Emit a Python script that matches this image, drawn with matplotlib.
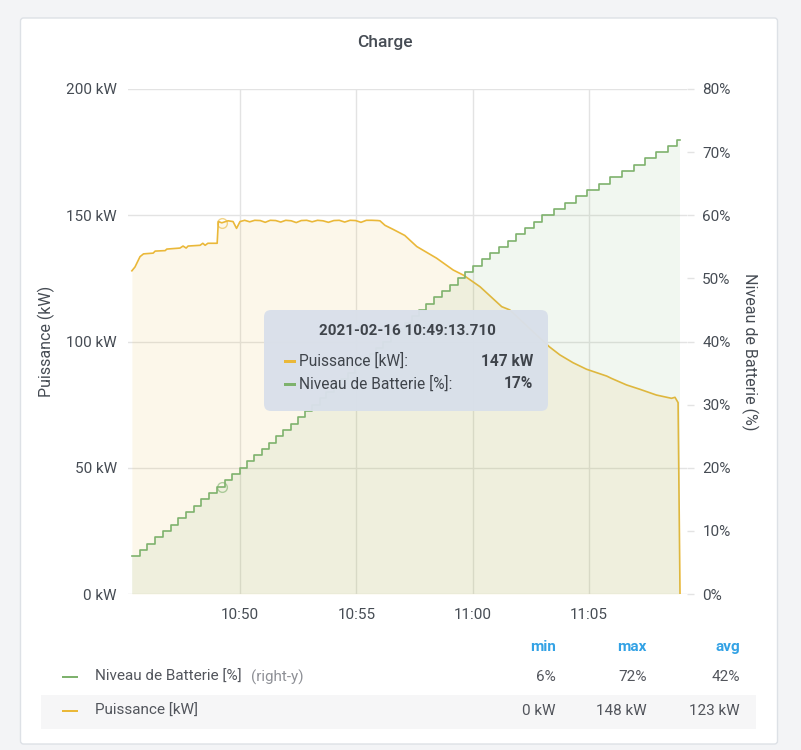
import numpy as np
import matplotlib
matplotlib.use("Agg")
import matplotlib.pyplot as plt
import matplotlib.dates as mdates
from matplotlib.patches import FancyBboxPatch, Rectangle
from matplotlib.transforms import IdentityTransform

plt.rcParams['font.family'] = ['Roboto', 'DejaVu Sans']

W, H = 801, 750
start = np.datetime64('2021-02-16T10:45:00')

# Puissance [kW] (secondes apres 10:45:00)
puiss_sec = [21, 29, 42, 51, 76, 81, 107, 111, 145, 153, 161, 166, 197, 204, 210, 217,
             241, 244, 253, 269, 282, 291, 300, 312, 325, 338, 352, 365, 378, 392, 405,
             418, 432, 445, 458, 472, 486, 500, 514, 528, 542, 556, 570, 584, 598, 612,
             626, 640, 655, 661, 674, 695, 725, 756, 807, 850, 876, 919, 975, 996, 1048,
             1098, 1125, 1159, 1194, 1246, 1258, 1297, 1331, 1374, 1413, 1422, 1430, 1435]
puiss_kw = [128, 129.5, 133.6, 134.7, 135, 135.8, 136, 136.6, 137, 137.8, 137, 137.8, 138.1,
            138.9, 138.1, 138.9, 138.9, 147.5, 147, 147.8, 147.5, 144.8, 147.5, 148, 147.4,
            148, 147.9, 147.2, 148, 147.9, 147.3, 148, 147.8, 147.1, 147.9, 148, 147.4, 148,
            147.8, 147.2, 147.9, 148, 147.3, 148, 147.9, 147.2, 148, 148, 147.9, 147.8, 146,
            144.4, 142, 137.6, 133, 128.3, 126.3, 121.7, 113.8, 112.5, 105, 97.9, 94.7, 91.6,
            89, 86.3, 85.4, 82.8, 81.1, 78.8, 77.5, 77.9, 75.8, 0]

# Niveau de Batterie [%] : instant ou chaque niveau est atteint
batt_sec = [22, 41, 61, 81, 101, 121, 141, 161, 181, 200, 220, 240, 260, 280, 300, 319,
            337, 356, 375, 393, 412, 431, 449, 468, 486, 505, 523, 542, 560, 578, 597, 615,
            634, 652, 670, 689, 707, 726, 744, 762, 781, 801, 821, 841, 861, 881, 901, 924,
            946, 968, 991, 1013, 1035, 1058, 1080, 1109, 1138, 1167, 1196, 1226, 1255, 1285,
            1315, 1344, 1374, 1404, 1427, 1435]
batt_pct = [6, 7, 8, 9, 10, 11, 12, 13, 14, 15, 16, 17, 18, 19, 20, 21, 22, 23, 24, 25, 26,
            27, 28, 29, 30, 31, 32, 33, 34, 35, 36, 37, 38, 39, 40, 41, 42, 43, 44, 45, 46,
            47, 48, 49, 50, 51, 52, 53, 54, 55, 56, 57, 58, 59, 60, 61, 62, 63, 64, 65, 66,
            67, 68, 69, 70, 71, 72, 72]

left_ticks = [0, 50, 100, 150, 200]
right_ticks = [0, 10, 20, 30, 40, 50, 60, 70, 80]

hover_sec = 253.71
hover_kw = 147
hover_pct = 17

legend_names = ["Niveau de Batterie [%]", "Puissance [kW]"]
legend_min = ["6%", "0 kW"]
legend_max = ["72%", "148 kW"]
legend_avg = ["42%", "123 kW"]

yellow = '#EAB839'
green = '#7EB26D'
txt = '#464c54'
grid = '#e3e3e3'

t_p = start + np.array(puiss_sec, dtype='timedelta64[s]')
t_b = start + np.array(batt_sec, dtype='timedelta64[s]')

fig = plt.figure(figsize=(W / 100, H / 100), dpi=100)
fig.patch.set_facecolor('#f3f4f6')
ID = IdentityTransform()

panel = FancyBboxPatch((20.5, H - 744), 757, 726, boxstyle='round,pad=0,rounding_size=3',
                       transform=ID, fc='white', ec='#dde1e6', lw=1, zorder=-1)
fig.add_artist(panel)

ax_l, ax_r, ax_t, ax_b = 128, 687, 89, 594
ax = fig.add_axes([ax_l / W, 1 - ax_b / H, (ax_r - ax_l) / W, (ax_b - ax_t) / H])
ax.set_facecolor('none')
ax2 = ax.twinx()

ax.plot(t_p, puiss_kw, color=yellow, lw=1.2, zorder=3)
ax.fill_between(t_p, puiss_kw, 0, color=yellow, alpha=0.1, lw=0)
ax2.plot(t_b, batt_pct, color=green, lw=1.2, drawstyle='steps-post', zorder=3)
ax2.fill_between(t_b, batt_pct, 0, step='post', color=green, alpha=0.1, lw=0)

t_h = start + np.timedelta64(int(hover_sec * 1000), 'ms')
ax.plot([t_h], [hover_kw], 'o', ms=7, mfc='none', mec=yellow, mew=1, alpha=0.6, zorder=4)
ax2.plot([t_h], [hover_pct], 'o', ms=7, mfc='none', mec=green, mew=1, alpha=0.6, zorder=4)

x0 = start + np.timedelta64(11, 's')
x1 = start + np.timedelta64(1453, 's')
ax.set_xlim(x0, x1)
ax.set_ylim(0, 200)
ax2.set_ylim(0, 80)

ax.set_yticks(left_ticks)
ax.set_yticklabels([f"{v} kW" for v in left_ticks])
ax2.set_yticks(right_ticks)
ax2.set_yticklabels([f"{v}%" for v in right_ticks])
ax.xaxis.set_major_locator(mdates.MinuteLocator(byminute=range(0, 60, 5)))
ax.xaxis.set_major_formatter(mdates.DateFormatter('%H:%M'))

ax.grid(True, color=grid, lw=1)
ax.set_axisbelow(True)
for a in (ax, ax2):
    for s in a.spines.values():
        s.set_visible(False)
ax.tick_params(axis='y', length=0, pad=8, labelsize=11, labelcolor=txt)
ax.tick_params(axis='x', length=0, pad=10, labelsize=11, labelcolor=txt)
ax2.tick_params(axis='y', length=5, width=1, color=grid, pad=6, labelsize=11, labelcolor=txt)

fig.text(385, H - 43, "Charge", transform=ID, ha='center', va='center', fontsize=12.5,
         fontweight='medium', color=txt)
fig.text(46, H - 341, "Puissance (kW)", transform=ID, ha='center', va='center', rotation=90,
         fontsize=11.5, color=txt)
fig.text(750, H - 352, "Niveau de Batterie (%)", transform=ID, ha='center', va='center',
         rotation=270, fontsize=11.5, color=txt)

# infobulle
tip = FancyBboxPatch((264, H - 411), 284, 101, boxstyle='round,pad=0,rounding_size=7',
                     transform=ID, fc='#d9e0ea', ec='none', alpha=0.97, zorder=5)
fig.add_artist(tip)
fig.text(407, H - 331, "2021-02-16 10:49:13.710", transform=ID, ha='center', va='center',
         fontsize=11, fontweight='bold', color='#3f444b', zorder=6)
rows = [("Puissance [kW]:", f"{hover_kw} kW", yellow, 361),
        ("Niveau de Batterie [%]:", f"{hover_pct}%", green, 384)]
for name, val, col, y in rows:
    fig.add_artist(Rectangle((284, H - y - 1.5), 12, 3, transform=ID, fc=col, ec='none', zorder=6))
    fig.text(299, H - y, name, transform=ID, ha='left', va='center', fontsize=11.2,
             color='#3f444b', zorder=6)
    fig.text(533, H - y, val, transform=ID, ha='right', va='center', fontsize=11.2,
             fontweight='bold', color='#3f444b', zorder=6)

# tableau de legende
fs_leg = 11
fig.add_artist(Rectangle((41, H - 729), 715, 34, transform=ID, fc='#f6f6f7', ec='none', zorder=0))
hdr_x = [556, 647, 740]
for x, s in zip(hdr_x, ["min", "max", "avg"]):
    fig.text(x, H - 647, s, transform=ID, ha='right', va='center', fontsize=fs_leg,
             fontweight='bold', color='#33a2e5')
leg_y = [677, 711]
leg_col = [green, yellow]
for i in range(2):
    y = leg_y[i]
    fig.add_artist(Rectangle((62, H - y - 1), 16, 2, transform=ID, fc=leg_col[i], ec='none'))
    fig.text(95, H - y, legend_names[i], transform=ID, ha='left', va='center', fontsize=fs_leg,
             color='#52555c')
    for x, s in zip(hdr_x, [legend_min[i], legend_max[i], legend_avg[i]]):
        fig.text(x, H - y, s, transform=ID, ha='right', va='center', fontsize=fs_leg,
                 color='#52555c')
fig.text(251, H - 677, "(right-y)", transform=ID, ha='left', va='center', fontsize=fs_leg,
         color='#8e9096')

fig.savefig("out.png", dpi=100)
